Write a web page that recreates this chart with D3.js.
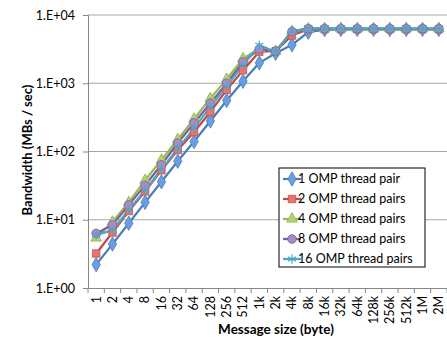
<!DOCTYPE html>
<html>
<head>
<meta charset="utf-8">
<script src="https://cdn.jsdelivr.net/npm/d3@7"></script>
<style>
  body { margin: 0; background: #fff; }
  text { font-family: Lato, "Open Sans", sans-serif; fill: #000; }
</style>
</head>
<body>
<div class="chart"></div>
<script>
var svgWidth = 447;
var svgHeight = 341;

var margin = { top: 15, right: 0, bottom: 53, left: 88 };
var width = svgWidth - margin.left - margin.right;
var height = svgHeight - margin.top - margin.bottom;

// Data
var sizes = ["1", "2", "4", "8", "16", "32", "64", "128", "256", "512", "1k", "2k", "4k",
  "8k", "16k", "32k", "64k", "128k", "256k", "512k", "1M", "2M"];
var pair1 = [2.2, 4.4, 8.9, 18, 36, 72, 140, 280, 560, 1070, 1990, 2750, 3650,
  5600, 6100, 6150, 6150, 6150, 6150, 6150, 6150, 6150];
var pairs2 = [3.2, 6.5, 13.4, 26, 53, 105, 193, 380, 800, 1550, 2900, 2950, 5000,
  6200, 6200, 6200, 6200, 6200, 6200, 6200, 6200, 6200];
var pairs4 = [5.4, 9.3, 18, 38, 75, 150, 300, 600, 1150, 2300, 3200, 2950, 5800,
  6300, 6300, 6300, 6300, 6300, 6300, 6300, 6300, 6300];
var pairs8 = [6.3, 8.4, 16.5, 32, 64, 133, 262, 510, 1000, 2050, 3170, 2950, 5700,
  6300, 6300, 6300, 6300, 6300, 6300, 6300, 6300, 6300];
var pairs16 = [6.0, 7.0, 14, 27, 55, 110, 220, 450, 900, 1850, 3600, 2900, 5800,
  6300, 6300, 6300, 6300, 6300, 6300, 6300, 6300, 6300];
var seriesNames = ["1 OMP thread pair", "2 OMP thread pairs", "4 OMP thread pairs",
  "8 OMP thread pairs", "16 OMP thread pairs"];
var yTicks = [1, 10, 100, 1000, 10000];

var series = [
  { name: seriesNames[0], values: pair1, line: "#4a7ebb", fill: "#6b9ee0", stroke: "#4a7ebb", shape: "diamond", size: 60 },
  { name: seriesNames[1], values: pairs2, line: "#be4b48", fill: "#f0726c", stroke: "#c0504d", shape: "square", size: 55 },
  { name: seriesNames[2], values: pairs4, line: "#98b954", fill: "#b5d46e", stroke: "#8fae4f", shape: "triangle", size: 50 },
  { name: seriesNames[3], values: pairs8, line: "#7d60a0", fill: "#a58cc9", stroke: "#7d60a0", shape: "circle", size: 60 },
  { name: seriesNames[4], values: pairs16, line: "#46aac5", fill: "#46aac5", stroke: "#46aac5", shape: "star", size: 60 }
];

var svg = d3.select(".chart")
  .append("svg")
  .attr("width", svgWidth)
  .attr("height", svgHeight);

var chartGroup = svg.append("g")
  .attr("transform", `translate(${margin.left}, ${margin.top})`);

var xScale = d3.scaleBand()
  .domain(sizes)
  .range([0, width])
  .padding(0);

var yScale = d3.scaleLog()
  .domain([1, 10000])
  .range([height, 0]);

// gridlines
chartGroup.selectAll(".grid")
  .data(yTicks.slice(1))
  .enter()
  .append("line")
  .attr("x1", 0)
  .attr("x2", width)
  .attr("y1", d => yScale(d))
  .attr("y2", d => yScale(d))
  .attr("stroke", "#a6a6a6")
  .attr("stroke-width", 1);

// y axis
var leftAxis = d3.axisLeft(yScale)
  .tickValues(yTicks)
  .tickSize(5)
  .tickPadding(8)
  .tickFormat(d => "1.E+0" + Math.round(Math.log10(d)));

var yAxisG = chartGroup.append("g").call(leftAxis);
yAxisG.select(".domain").attr("stroke", "#868686");
yAxisG.selectAll(".tick line").attr("stroke", "#868686");
yAxisG.selectAll("text").style("font-family", "Lato, sans-serif").style("font-size", "12.5px");

// x axis: ticks on category boundaries
var bottomAxis = d3.axisBottom(xScale).tickSize(0).tickPadding(0);
var xAxisG = chartGroup.append("g")
  .attr("transform", `translate(0, ${height})`)
  .call(bottomAxis);
xAxisG.select(".domain").attr("stroke", "#868686");
xAxisG.selectAll(".tick text")
  .attr("transform", "rotate(-90)")
  .attr("x", -8)
  .attr("y", 0)
  .attr("dy", "0.35em")
  .style("text-anchor", "end")
  .style("font-family", "Lato, sans-serif")
  .style("font-size", "12.5px");

xAxisG.selectAll(".bound")
  .data(d3.range(sizes.length + 1))
  .enter()
  .append("line")
  .attr("x1", i => i * xScale.step())
  .attr("x2", i => i * xScale.step())
  .attr("y1", 0)
  .attr("y2", 5)
  .attr("stroke", "#868686");

// lines
var line = d3.line()
  .x((d, i) => xScale(sizes[i]) + xScale.bandwidth() / 2)
  .y(d => yScale(d));

var symbolTypes = {
  diamond: d3.symbolDiamond,
  square: d3.symbolSquare,
  triangle: d3.symbolTriangle,
  circle: d3.symbolCircle,
  star: d3.symbolAsterisk
};

series.forEach(s => {
  chartGroup.append("path")
    .datum(s.values)
    .attr("d", line)
    .attr("fill", "none")
    .attr("stroke", s.line)
    .attr("stroke-width", 2.25)
    .attr("stroke-linejoin", "round");
});

series.forEach(s => {
  var sym = d3.symbol().type(symbolTypes[s.shape]).size(s.size);
  chartGroup.selectAll(".m-" + s.shape)
    .data(s.values)
    .enter()
    .append("path")
    .attr("class", "m-" + s.shape)
    .attr("transform", (d, i) => `translate(${xScale(sizes[i]) + xScale.bandwidth() / 2}, ${yScale(d)})`)
    .attr("d", sym)
    .attr("fill", s.shape === "star" ? "none" : s.fill)
    .attr("stroke", s.stroke)
    .attr("stroke-width", s.shape === "star" ? 1.2 : 0.8);
});

// legend
var legend = svg.append("g").attr("transform", "translate(279, 168)");
legend.append("rect")
  .attr("width", 146)
  .attr("height", 99)
  .attr("fill", "#fff")
  .attr("stroke", "#000")
  .attr("stroke-width", 1);

series.forEach((s, i) => {
  var row = legend.append("g").attr("transform", `translate(0, ${11 + i * 20})`);
  row.append("line")
    .attr("x1", 4).attr("x2", 22)
    .attr("stroke", s.line)
    .attr("stroke-width", 2.25);
  row.append("path")
    .attr("transform", "translate(13, 0)")
    .attr("d", d3.symbol().type(symbolTypes[s.shape]).size(s.size))
    .attr("fill", s.shape === "star" ? "none" : s.fill)
    .attr("stroke", s.stroke)
    .attr("stroke-width", s.shape === "star" ? 1.2 : 0.8);
  row.append("text")
    .attr("x", 19)
    .attr("dy", "0.35em")
    .style("font-size", "12.5px")
    .text(s.name);
});

// axis titles
svg.append("text")
  .attr("transform", "translate(32, 150) rotate(-90)")
  .style("text-anchor", "middle")
  .style("font-weight", "bold")
  .style("font-size", "13px")
  .text("Bandwidth (MBs / sec)");

svg.append("text")
  .attr("x", 276)
  .attr("y", 334)
  .style("text-anchor", "middle")
  .style("font-weight", "bold")
  .style("font-size", "13.5px")
  .text("Message size (byte)");
</script>
</body>
</html>
